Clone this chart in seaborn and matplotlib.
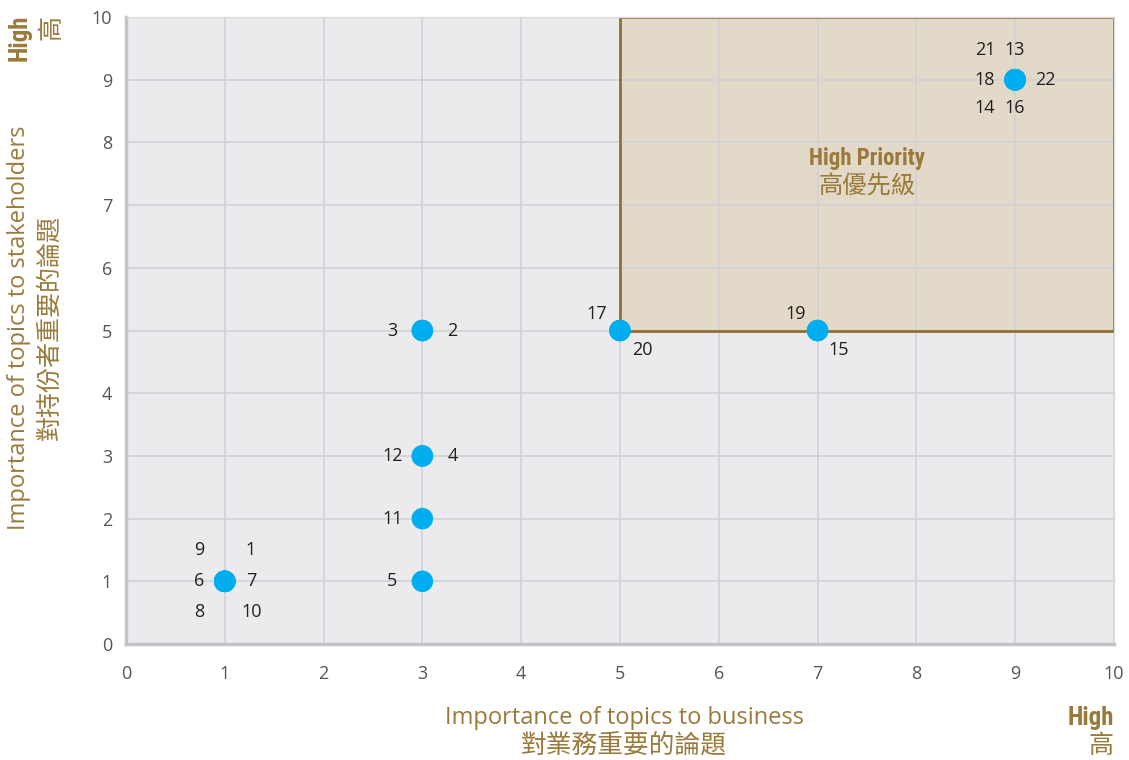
import pandas as pd
import matplotlib.pyplot as plt
import seaborn as sns
from matplotlib.patches import Rectangle

# Topics and their position on the materiality matrix
topics = [1, 2, 3, 4, 5, 6, 7, 8, 9, 10, 11, 12, 13, 14, 15, 16, 17, 18, 19, 20, 21, 22]
business = [1, 3, 3, 3, 3, 1, 1, 1, 1, 1, 3, 3, 9, 9, 7, 9, 5, 9, 7, 5, 9, 9]
stakeholders = [1, 5, 5, 3, 1, 1, 1, 1, 1, 1, 2, 3, 9, 9, 5, 9, 5, 9, 5, 5, 9, 9]

ticks = list(range(0, 11))
x_label_en, x_label_zh = "Importance of topics to business", "對業務重要的論題"
y_label_en, y_label_zh = "Importance of topics to stakeholders", "對持份者重要的論題"
box_en, box_zh = "High Priority", "高優先級"
high_en, high_zh = "High", "高"

# where each number sits around its dot (pixels)
label_offsets = {
    1: (26, 31), 2: (30, 0), 3: (-30, 0), 4: (30, 0), 5: (-30, 0),
    6: (-26, 0), 7: (27, 0), 8: (-26, -31), 9: (-26, 31), 10: (27, -31),
    11: (-30, 0), 12: (-30, 0), 13: (0, 30), 14: (-30, -28), 15: (21, -19),
    16: (0, -28), 17: (-23, 17), 18: (-30, 0), 19: (-22, 17), 20: (22, -19),
    21: (-30, 30), 22: (30, 0),
}

gold = "#9A7A3A"
narrow = ["Roboto Condensed", "Open Sans", "DejaVu Sans"]
cjk = ["Noto Sans CJK TC", "DejaVu Sans"]
df = pd.DataFrame({"topic": topics, "business": business, "stakeholders": stakeholders})

sns.set_theme(style="darkgrid")
plt.rcParams["font.family"] = ["Open Sans", "Noto Sans CJK TC", "DejaVu Sans"]

fig = plt.figure(figsize=(11.29, 7.6), dpi=100)
ax = fig.add_axes([0.1116, 0.1526, 0.875, 0.825])
ax.set_facecolor("#EBEBEE")

# high priority region
ax.add_patch(Rectangle((5, 5), 5, 5, facecolor="#E3D9C8", edgecolor="none", zorder=0.2))
ax.add_patch(Rectangle((5, 5), 5, 5, facecolor="none", edgecolor="#8F7033", lw=2, zorder=2))
ax.text(7.5, 7.74, box_en, ha="center", va="center", color=gold, fontsize=16.5,
        fontweight="bold", family=narrow)
ax.text(7.5, 7.30, box_zh, ha="center", va="center", color=gold, fontsize=17.5,
        family=cjk)

sns.scatterplot(data=df, x="business", y="stakeholders", color="#00AEEF", s=240,
                edgecolor="none", zorder=3, ax=ax)

for t, bx, sy in zip(topics, business, stakeholders):
    dx, dy = label_offsets[t]
    ax.annotate(str(t), (bx, sy), xytext=(dx, dy), textcoords="offset pixels",
                ha="center", va="center", fontsize=13, color="#231F20")

ax.set_xlim(0, 10)
ax.set_ylim(0, 10)
ax.set_xticks(ticks)
ax.set_yticks(ticks)
ax.grid(color="#D2D2D6", lw=1.2)
ax.tick_params(labelsize=13, labelcolor="#555555", length=0)
ax.tick_params(axis="x", pad=15)
ax.tick_params(axis="y", pad=10)
ax.set_xlabel("")
ax.set_ylabel("")
for side in ["left", "bottom"]:
    ax.spines[side].set_visible(True)
    ax.spines[side].set_color("#C4C4C8")
    ax.spines[side].set_linewidth(2.5)
for side in ["top", "right"]:
    ax.spines[side].set_visible(True)
    ax.spines[side].set_color("#DCDCDE")
    ax.spines[side].set_linewidth(1)

fig.text(0.553, 1 - 718 / 760, x_label_en, ha="center", va="center", color=gold, fontsize=17)
fig.text(0.553, 1 - 746 / 760, x_label_zh, ha="center", va="center", color=gold,
         fontsize=18.5, family=cjk)
fig.text(19 / 1129, 1 - 328 / 760, y_label_en, ha="center", va="center", rotation=90,
         color=gold, fontsize=17)
fig.text(50 / 1129, 1 - 327 / 760, y_label_zh, ha="center", va="center", rotation=90,
         color=gold, fontsize=18, family=cjk)

# "High" markers at axis ends
fig.text(1114 / 1129, 1 - 718 / 760, high_en, ha="right", va="center", color=gold,
         fontsize=18, fontweight="bold", family=narrow)
fig.text(1113 / 1129, 1 - 746 / 760, high_zh, ha="right", va="center", color=gold,
         fontsize=18, family=cjk)
fig.text(20 / 1129, 1 - 38 / 760, high_en, ha="center", va="center", rotation=90,
         color=gold, fontsize=18, fontweight="bold", family=narrow)
fig.text(52 / 1129, 1 - 27 / 760, high_zh, ha="center", va="center", rotation=90,
         color=gold, fontsize=18, family=cjk)

plt.savefig("out.png", dpi=100)
